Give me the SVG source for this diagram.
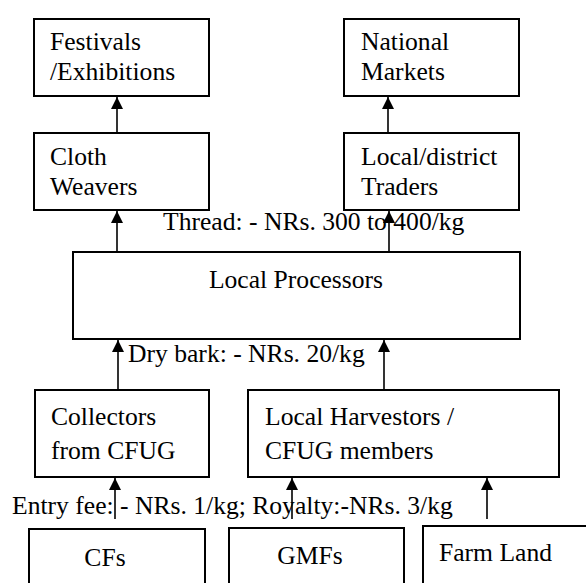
<svg xmlns="http://www.w3.org/2000/svg" width="586" height="583" viewBox="0 0 586 583">
<style>
.box{fill:#fff;stroke:#000;stroke-width:2}
.t{font-family:"Liberation Serif","Times New Roman",serif;font-size:25.6px;fill:#000}
.c{fill:none;stroke:#000;stroke-width:1.6}
</style>
<defs>
<marker id="ah" markerUnits="userSpaceOnUse" markerWidth="14" markerHeight="14" viewBox="0 0 14 14" refX="12" refY="7" orient="auto">
<path d="M0,1 L12,7 L0,13 Z" fill="#000"/>
</marker>
</defs>
<rect width="586" height="583" fill="#fff"/>
<g id="connectors">
<line class="c" x1="117" y1="133" x2="117" y2="97" marker-end="url(#ah)"/>
<line class="c" x1="388" y1="133" x2="388" y2="97" marker-end="url(#ah)"/>
<line class="c" x1="117" y1="252" x2="117" y2="211" marker-end="url(#ah)"/>
<line class="c" x1="389" y1="252" x2="389" y2="211" marker-end="url(#ah)"/>
<line class="c" x1="118" y1="390" x2="118" y2="340" marker-end="url(#ah)"/>
<line class="c" x1="384" y1="390" x2="384" y2="340" marker-end="url(#ah)"/>
<line class="c" x1="115" y1="519" x2="115" y2="478" marker-end="url(#ah)"/>
<line class="c" x1="292" y1="519" x2="292" y2="478" marker-end="url(#ah)"/>
<line class="c" x1="487" y1="519" x2="487" y2="478" marker-end="url(#ah)"/>
</g>
<g id="festivals"><rect class="box" x="34" y="19" width="175" height="77"/><text class="t" x="50" y="50">Festivals</text><text class="t" x="50" y="80">/Exhibitions</text></g>
<g id="national"><rect class="box" x="344" y="19" width="175" height="77"/><text class="t" x="361" y="50">National</text><text class="t" x="361" y="80">Markets</text></g>
<g id="weavers"><rect class="box" x="34" y="133" width="175" height="77"/><text class="t" x="50" y="165">Cloth</text><text class="t" x="50" y="195">Weavers</text></g>
<g id="traders"><rect class="box" x="344" y="133" width="175" height="77"/><text class="t" x="361" y="165">Local/district</text><text class="t" x="361" y="195">Traders</text></g>
<g id="processors"><rect class="box" x="73" y="252" width="447" height="87"/><text class="t" x="296" y="288" text-anchor="middle">Local Processors</text></g>
<g id="collectors"><rect class="box" x="35" y="390" width="174" height="87"/><text class="t" x="51" y="425">Collectors</text><text class="t" x="51" y="459">from CFUG</text></g>
<g id="harvestors"><rect class="box" x="248" y="390" width="311" height="87"/><text class="t" x="265" y="425">Local Harvestors /</text><text class="t" x="265" y="459">CFUG members</text></g>
<g id="cfs"><rect class="box" x="29" y="529" width="176" height="70"/><text class="t" x="105" y="566" text-anchor="middle">CFs</text></g>
<g id="gmfs"><rect class="box" x="229" y="528" width="175" height="70"/><text class="t" x="310" y="564" text-anchor="middle">GMFs</text></g>
<g id="farmland"><rect class="box" x="423" y="526" width="175" height="70"/><text class="t" x="439" y="561">Farm Land</text></g>
<g id="labels">
<text class="t" x="163" y="230">Thread: - NRs. 300 to 400/kg</text>
<text class="t" x="128" y="362">Dry bark: - NRs. 20/kg</text>
<text class="t" x="12" y="514">Entry fee: - NRs. 1/kg; Royalty:-NRs. 3/kg</text>
</g>
</svg>
